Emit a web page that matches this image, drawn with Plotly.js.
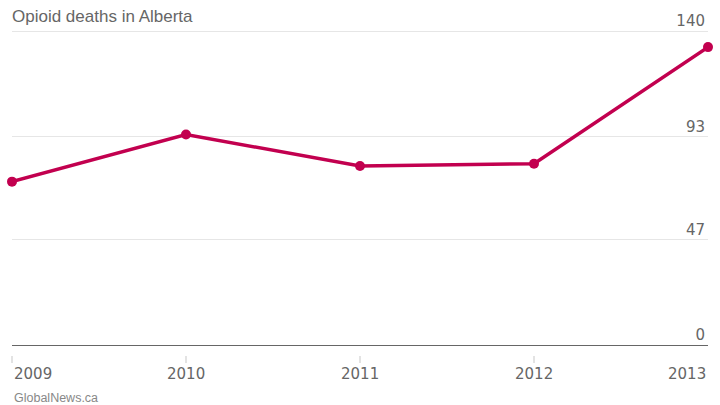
<!DOCTYPE html>
<html>
<head>
<meta charset="utf-8">
<script src="https://cdn.plot.ly/plotly-3.0.1.min.js"></script>
<style>
  html, body { margin: 0; padding: 0; background: #fff; }
  #chart { width: 720px; height: 405px; }
</style>
</head>
<body>
<div id="chart"></div>
<script>
  // data
  var years = [2009, 2010, 2011, 2012, 2013];
  var deaths = [73, 94, 80, 81, 133];
  var yTicks = [0, 47, 93, 140];
  var yearLabels = ['2009', '2010', '2011', '2012', '2013'];
  var labelAnchor = ['left', 'center', 'center', 'center', 'right'];

  var lineColor = '#c2004f';
  var textGrey = '#666666';

  var trace = {
    x: years,
    y: deaths,
    type: 'scatter',
    mode: 'lines+markers',
    line: { color: lineColor, width: 3.5 },
    marker: { color: lineColor, size: 10 },
    cliponaxis: false,
    hoverinfo: 'none'
  };

  // year labels as annotations so the end ones can hug the edges
  var annotations = [];
  for (var i in years) {
    annotations.push({
      x: years[i],
      xref: 'x',
      y: 0,
      yref: 'paper',
      yanchor: 'top',
      yshift: -8,
      xanchor: labelAnchor[i],
      text: yearLabels[i],
      showarrow: false,
      font: { family: 'DejaVu Sans', size: 15, color: textGrey }
    });
  }

  annotations.push({
    x: 0,
    xref: 'paper',
    xanchor: 'left',
    y: 0,
    yref: 'paper',
    yanchor: 'top',
    yshift: -34,
    text: 'GlobalNews.ca',
    showarrow: false,
    font: { family: 'Liberation Sans', size: 12.5, color: '#888888' }
  });

  var layout = {
    width: 720,
    height: 405,
    // plot area runs a bit above 140 so the top label is not dropped
    margin: { l: 12, r: 12, t: 8.5, b: 50 },
    paper_bgcolor: '#ffffff',
    plot_bgcolor: '#ffffff',
    showlegend: false,
    title: {
      text: 'Opioid deaths in Alberta',
      x: 0,
      xref: 'paper',
      xanchor: 'left',
      y: 1,
      yref: 'container',
      yanchor: 'top',
      pad: { t: 10 },
      font: { family: 'Liberation Sans', size: 17, color: textGrey }
    },
    xaxis: {
      range: [2009, 2013],
      tickvals: years,
      showticklabels: false,
      ticks: 'outside',
      ticklen: 7,
      tickwidth: 2,
      tickcolor: '#e3e3e3',
      showgrid: false,
      zeroline: false,
      showline: false,
      fixedrange: true
    },
    yaxis: {
      side: 'right',
      range: [-4.32, 150],
      tickvals: yTicks,
      ticktext: yTicks.map(String),
      ticklabelposition: 'inside top',
      tickfont: { family: 'DejaVu Sans', size: 15, color: textGrey },
      showgrid: true,
      gridcolor: '#e6e6e6',
      gridwidth: 1,
      zeroline: true,
      zerolinecolor: '#666666',
      zerolinewidth: 1.5,
      showline: false,
      ticks: '',
      fixedrange: true
    },
    annotations: annotations
  };

  Plotly.newPlot('chart', [trace], layout, { displayModeBar: false, staticPlot: true });
</script>
</body>
</html>
